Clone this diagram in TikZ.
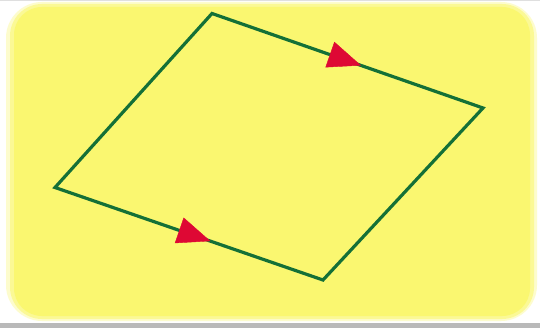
\documentclass[tikz,border=0pt]{standalone}
\usetikzlibrary{arrows.meta,decorations.markings}
\definecolor{bgyellow}{RGB}{250,247,112}
\definecolor{edgegreen}{RGB}{20,112,55}
\definecolor{tipred}{RGB}{222,8,52}
\tikzset{
  edge/.style={draw=edgegreen,line width=3.2pt,line join=miter},
  redtip/.style={decoration={markings,mark=at position #1 with {\arrow[tipred]{Triangle[length=33pt,width=27pt]}}},postaction={decorate}},
}
\begin{document}
\begin{tikzpicture}[x=1pt,y=-1pt]
\useasboundingbox (0,0) rectangle (540,328);
\fill[white] (0,0) rectangle (540,328);
\fill[gray!25] (0,0) rectangle (540,1.5);
\fill[bgyellow,opacity=0.35,rounded corners=36pt] (6,2) rectangle (537,321);
\fill[bgyellow,opacity=0.6,rounded corners=32pt] (10,4) rectangle (534,319);
\fill[bgyellow,rounded corners=28pt] (14,7) rectangle (530,316);
\fill[gray!55] (0,323) rectangle (540,328);
\coordinate (T) at (212,13.5);
\coordinate (R) at (483,108);
\coordinate (B) at (323,280);
\coordinate (L) at (55,187.5);
\draw[edge] (T) -- (R) -- (B) -- (L) -- cycle;
\path[redtip=0.55] (T) -- (R);
\path[redtip=0.58] (L) -- (B);
\end{tikzpicture}
\end{document}
